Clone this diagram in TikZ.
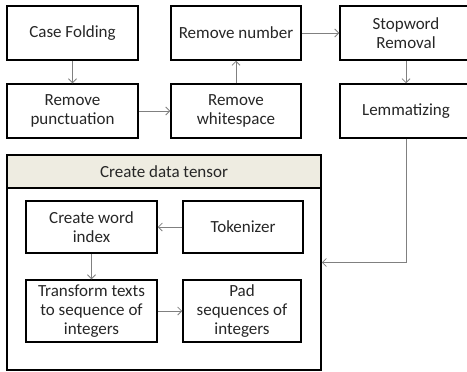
\documentclass[tikz,border=0pt]{standalone}
\usepackage{fontspec}
\setmainfont{Carlito}
\usetikzlibrary{arrows.meta}
\begin{document}
\begin{tikzpicture}[x=1pt,y=-1pt,
  box/.style={draw=black, line width=1.5pt, align=center, inner sep=0pt,
    font=\fontsize{17}{19}\selectfont, text=black!85},
  conn/.style={draw=black!50, line width=0.8pt, -{Straight Barb[length=4pt,width=8pt,line width=0.8pt]}}]
\useasboundingbox (0,0) rectangle (467,372);
\clip (0,0) rectangle (467,372);
% top rows
\node[box, minimum width=131pt, minimum height=54pt] (cf) at (72.5,33) {Case Folding};
\node[box, minimum width=130pt, minimum height=54pt] (rn) at (236,33) {Remove number};
\node[box, minimum width=132pt, minimum height=54pt] (sw) at (406,33) {Stopword\\Removal};
\node[box, minimum width=131pt, minimum height=54pt] (rp) at (72.5,111) {Remove\\punctuation};
\node[box, minimum width=130pt, minimum height=54pt] (rw) at (236,111) {Remove\\whitespace};
\node[box, minimum width=132pt, minimum height=54pt] (lm) at (406,111) {Lemmatizing};
% container
\node[box, minimum width=314pt, minimum height=215pt] (dt) at (164,262.5) {};
\node[box, fill={rgb,255:red,238;green,236;blue,225}, minimum width=314pt, minimum height=33pt] (hd) at (164,171.5) {Create data tensor};
\node[box, minimum width=131pt, minimum height=52pt] (wi) at (91.5,227) {Create word\\index};
\node[box, minimum width=120pt, minimum height=52pt] (tk) at (243,227) {Tokenizer};
\node[box, minimum width=131pt, minimum height=62pt] (tt) at (91.5,311) {Transform texts\\to sequence of\\integers};
\node[box, minimum width=118pt, minimum height=62pt] (pd) at (242,311) {Pad\\sequences of\\integers};
% connectors
\draw[conn] (cf) -- (rp);
\draw[conn] (rp) -- (rw);
\draw[conn] (rw) -- (rn);
\draw[conn] (rn) -- (sw);
\draw[conn] (sw) -- (lm);
\draw[conn] (lm.south) |- (dt.east);
\draw[conn] (tk) -- (wi);
\draw[conn] (wi) -- (tt);
\draw[conn] (tt) -- (pd);
\end{tikzpicture}
\end{document}
